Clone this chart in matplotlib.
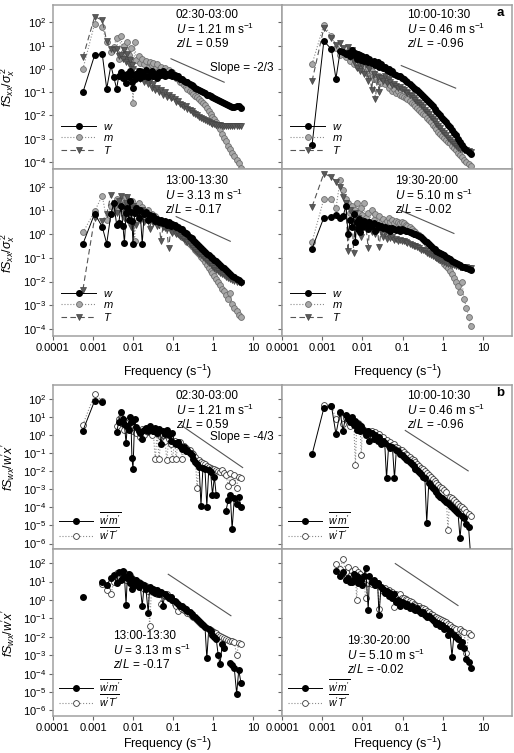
import numpy as np
import matplotlib
matplotlib.use('Agg')
import matplotlib.pyplot as plt
from matplotlib.ticker import FixedLocator, NullLocator

plt.rcParams['font.family'] = ['Liberation Sans', 'DejaVu Sans']
plt.rcParams['mathtext.fontset'] = 'custom'
plt.rcParams['mathtext.rm'] = 'Liberation Sans'
plt.rcParams['mathtext.it'] = 'Liberation Sans:italic'
plt.rcParams['mathtext.bf'] = 'Liberation Sans:bold'

nan = np.nan

# frequency bins (s^-1)
freq = [0.00056, 0.0011, 0.0017, 0.0022, 0.0028, 0.0033, 0.0039, 0.0044, 0.0050, 0.0056,
        0.0061, 0.0067, 0.0072, 0.0078, 0.0083, 0.0089, 0.0094, 0.0100,
        0.011, 0.012, 0.014, 0.015, 0.017, 0.019, 0.021, 0.024, 0.026, 0.029, 0.032,
        0.036, 0.040, 0.045, 0.050, 0.056, 0.063, 0.070, 0.078, 0.087, 0.097,
        0.11, 0.12, 0.13, 0.15, 0.17, 0.19, 0.21, 0.23, 0.26, 0.29, 0.32,
        0.36, 0.40, 0.45, 0.50, 0.56, 0.63, 0.70, 0.78, 0.87, 0.97,
        1.08, 1.2, 1.35, 1.5, 1.7, 1.9, 2.1, 2.4, 2.7, 3.0, 3.4, 3.9, 4.4, 5.0]

# (a) normalised spectra, log10 values
w_a1 = [-1.0, 0.6, 0.65, -0.85, 0.15, -0.35, -0.85, -0.3, -0.15, -0.4, -0.25, -0.6, -0.2, -0.35, -0.1, -0.2, -0.55, -0.8,
        -0.45, -0.2, -0.1, -0.4, -0.15, -0.3, -0.05, -0.35, -0.2, -0.1, -0.3, -0.2, -0.4, -0.15, -0.25, -0.1, -0.3, -0.2, -0.25, -0.15, -0.3,
        -0.25, -0.35, -0.3, -0.42, -0.45, -0.5, -0.55, -0.58, -0.65, -0.7, -0.75, -0.8, -0.85, -0.9, -0.95, -1.0, -1.05, -1.1, -1.14, -1.18, -1.22,
        -1.26, -1.3, -1.34, -1.38, -1.43, -1.47, -1.5, -1.55, -1.58, -1.62, -1.64, -1.6, -1.58, -1.66]
m_a1 = [0.0, 1.95, 1.8, 1.15, 0.75, 0.95, 1.35, 0.45, 1.4, 0.7, 1.0, 0.5, 1.15, 0.6, 0.45, 0.9, 0.3, -1.45,
        1.15, 0.4, 0.55, 0.25, 0.45, 0.2, 0.35, 0.05, 0.3, 0.15, 0.25, 0.0, 0.2, -0.05, 0.1, -0.1, 0.05, -0.15, -0.05, -0.2, -0.15,
        -0.3, -0.38, -0.45, -0.55, -0.62, -0.7, -0.78, -0.85, -0.93, -1.0, -1.08, -1.15, -1.22, -1.3, -1.38, -1.47, -1.57, -1.68, -1.8, -1.92, -2.05,
        -2.15, -2.3, -2.45, -2.6, -2.8, -2.95, -3.1, -3.3, -3.45, -3.6, -3.75, -3.9, -4.05, -4.25]
T_a1 = [0.5, 2.25, 2.1, 1.2, 0.85, 0.8, 0.85, 0.55, 0.6, 0.45, 0.8, 0.3, 0.65, 0.2, 0.4, -0.3, 0.15, 0.0,
        -0.2, -0.35, -0.1, -0.45, -0.3, -0.55, -0.4, -0.65, -0.5, -0.8, -0.65, -0.9, -0.8, -1.0, -0.9, -1.1, -1.0, -1.2, -1.1, -1.25, -1.2,
        -1.3, -1.4, -1.36, -1.5, -1.55, -1.62, -1.6, -1.72, -1.78, -1.82, -1.9, -1.95, -2.0, -2.05, -2.1, -2.15, -2.2, -2.25, -2.3, -2.33, -2.36,
        -2.38, -2.4, -2.42, -2.43, -2.44, -2.45, -2.44, -2.45, -2.46, -2.45, -2.44, -2.45, -2.46, -2.45]

w_a2 = [-3.27, 1.2, 0.85, -0.42, 0.77, 0.75, 0.65, 0.7, 0.55, 0.8, 0.6, 0.7, 0.45, 0.65, 0.5, 0.6, 0.4, 0.55,
        0.35, 0.5, 0.3, 0.45, 0.25, 0.35, 0.15, 0.3, 0.1, 0.2, 0.05, 0.1, -0.05, 0.0, -0.15, -0.1, -0.2, -0.25, -0.3, -0.3, -0.4,
        -0.45, -0.5, -0.58, -0.65, -0.72, -0.8, -0.85, -0.92, -1.0, -1.08, -1.15, -1.25, -1.32, -1.42, -1.5, -1.6, -1.7, -1.8, -1.9, -2.0, -2.1,
        -2.2, -2.3, -2.42, -2.5, -2.62, -2.75, -2.85, -3.0, -3.12, -3.25, -3.38, -3.5, -3.58, -3.66]
m_a2 = [0.21, 1.9, 1.41, 0.9, 0.6, 0.75, 0.5, 0.65, 0.35, 0.55, 0.2, 0.45, 0.3, 0.1, 0.4, 0.15, 0.25, 0.0,
        0.1, -0.15, 0.05, -0.3, -0.1, -0.45, -0.2, -0.5, -0.3, -0.6, -0.4, -0.65, -0.5, -0.8, -0.7, -0.95, -0.85, -1.05, -0.95, -1.1, -1.15,
        -1.2, -1.25, -1.3, -1.38, -1.45, -1.52, -1.6, -1.68, -1.75, -1.85, -1.92, -2.0, -2.1, -2.2, -2.3, -2.4, -2.5, -2.6, -2.7, -2.8, -2.9,
        -2.98, -3.05, -3.12, -3.2, -3.3, -3.4, -3.5, -3.6, -3.7, -3.8, -3.9, -4.0, -4.08, -4.15]
T_a2 = [-0.52, 1.76, 1.35, 1.05, 1.1, 0.9, 0.7, 0.95, 0.5, 0.8, 0.3, 0.6, 0.05, 0.55, 0.2, -0.1, 0.35, 0.15,
        -0.2, 0.2, -0.5, 0.0, -0.9, -0.2, -1.3, -0.35, -1.0, -0.4, -0.5, -0.3, -0.6, -0.45, -0.55, -0.7, -0.65, -0.75, -0.8, -0.78, -0.85,
        -0.9, -0.98, -1.05, -1.1, -1.18, -1.25, -1.32, -1.4, -1.48, -1.55, -1.65, -1.75, -1.85, -1.95, -2.05, -2.15, -2.25, -2.35, -2.45, -2.55, -2.65,
        -2.75, -2.85, -2.95, -3.05, -3.15, -3.22, -3.3, -3.38, -3.42, -3.45, -3.48, -3.5, -3.52, -3.55]

w_a3 = [-0.41, 0.87, 0.31, -0.4, 0.84, 1.3, 0.4, 0.45, 1.2, 0.35, -0.37, 0.9, 1.1, 0.6, 1.4, 0.95, 0.55, -0.4,
        0.9, 1.1, 0.7, 1.0, -0.4, 0.85, 0.95, 0.6, 0.8, 0.7, 0.75, 0.55, 0.65, 0.5, 0.6, 0.45, 0.55, 0.4, 0.5, 0.35, 0.42,
        0.38, 0.3, 0.32, 0.2, 0.22, 0.1, 0.05, 0.0, -0.1, -0.15, -0.25, -0.35, -0.42, -0.5, -0.6, -0.68, -0.75, -0.82, -0.9, -0.96, -1.02,
        -1.08, -1.15, -1.22, -1.3, -1.38, -1.45, -1.52, -1.6, -1.68, -1.75, -1.82, -1.88, -1.93, -2.0]
m_a3 = [0.07, 0.96, 1.63, 0.6, 1.2, 1.0, 1.5, 1.1, 1.45, 1.25, 0.9, 1.55, 1.3, 1.2, 0.8, 1.35, 1.4, 1.0,
        -0.3, 1.2, 1.3, 1.0, 1.15, 0.9, 0.8, 1.0, 0.7, 0.85, 0.65, 0.75, 0.55, 0.6, 0.45, 0.5, 0.35, 0.4, 0.3, 0.32, 0.25,
        0.2, 0.12, 0.05, -0.02, -0.1, -0.18, -0.25, -0.32, -0.4, -0.48, -0.56, -0.65, -0.75, -0.85, -0.95, -1.05, -1.18, -1.3, -1.42, -1.55, -1.65,
        -1.78, -1.9, -2.02, -2.15, -2.3, -2.42, -2.55, -2.75, -2.5, -2.95, -3.1, -3.25, -3.4, -3.5]
T_a3 = [-2.34, 0.7, 0.55, 0.85, 1.67, 1.2, 0.9, 1.4, 1.6, 1.1, 0.7, 1.3, 1.55, 0.8, 1.25, 0.3, 1.0, 1.2,
        1.1, 0.4, 0.95, 0.6, 1.0, 0.5, 0.75, 0.55, 0.2, 0.6, 0.45, 0.5, 0.35, 0.4, -0.3, 0.3, 0.25, 0.2, -0.6, 0.15, 0.05,
        0.1, 0.0, 0.02, -0.08, -0.12, -0.2, -0.28, -0.34, -0.42, -0.5, -0.58, -0.66, -0.74, -0.82, -0.9, -0.98, -1.06, -1.14, -1.2, -1.28, -1.35,
        -1.42, -1.5, -1.56, -1.62, -1.68, -1.74, -1.8, -1.85, -1.9, -1.94, -1.98, -2.0, -2.02, -2.05]

w_a4 = [-0.61, 0.7, 0.73, 0.81, 0.7, 0.75, 1.2, 0.0, 0.6, 0.3, 0.85, -0.35, 0.5, 0.2, 0.65, 0.1, 0.45, 0.3,
        0.55, 0.4, 0.2, 0.5, 0.35, 0.45, 0.15, 0.4, 0.3, 0.35, 0.25, 0.3, 0.2, 0.28, 0.15, 0.25, 0.2, 0.18, 0.22, 0.15, 0.2,
        0.18, 0.15, 0.12, 0.1, 0.05, 0.02, 0.0, -0.05, -0.08, -0.12, -0.2, -0.28, -0.35, -0.42, -0.5, -0.57, -0.63, -0.7, -0.75, -0.8, -0.85,
        -0.9, -0.95, -1.0, -1.05, -1.12, -1.18, -1.22, -1.28, -1.32, -1.38, -1.4, -1.45, -1.48, -1.52]
m_a4 = [-0.33, 1.49, 1.49, 1.1, 2.27, 1.85, 1.5, 1.3, 0.9, 1.2, 0.5, 1.0, 1.3, 0.7, 0.95, 0.4, 1.1, 0.8,
        1.3, 0.7, 0.9, 0.5, 1.0, 0.6, 0.85, 0.4, 0.75, 0.5, 0.65, 0.45, 0.55, 0.7, 0.5, 0.6, 0.45, 0.55, 0.5, 0.45, 0.5,
        0.45, 0.4, 0.35, 0.3, 0.22, 0.15, 0.1, 0.02, -0.05, -0.12, -0.2, -0.3, -0.4, -0.5, -0.6, -0.7, -0.8, -0.9, -1.0, -1.08, -1.15,
        -1.25, -1.35, -1.45, -1.55, -1.7, -1.85, -2.0, -2.2, -2.45, -2.0, -2.75, -3.1, -3.5, -3.87]
T_a4 = [1.16, 2.56, 2.41, 2.2, 2.0, 1.56, 1.3, -0.73, 1.0, 0.5, -0.8, 0.9, 0.3, 0.7, 0.2, 0.6, -0.1, 0.45,
        0.3, 0.5, -0.6, 0.35, 0.1, 0.3, 0.0, 0.2, -0.55, 0.1, -0.1, 0.05, -0.2, 0.0, -0.15, -0.1, -0.25, -0.2, -0.3, -0.25, -0.3,
        -0.3, -0.35, -0.38, -0.42, -0.45, -0.5, -0.52, -0.56, -0.6, -0.65, -0.68, -0.72, -0.78, -0.82, -0.88, -0.92, -0.98, -1.02, -1.06, -1.1, -1.12,
        -1.16, -1.2, -1.24, -1.27, -1.3, -1.32, -1.34, -1.36, -1.37, -1.38, -1.39, -1.4, -1.41, -1.42]

# (b) normalised cospectra, log10 values (nan = negative, not shown)
wm_b1 = [0.25, 1.9, 1.84, nan, nan, nan, 0.19, 0.7, 1.25, 0.9, 0.6, -0.45, 0.5, 0.3, 0.98, 0.7, -1.27, -1.9,
         0.9, 0.45, 0.2, 0.1, -0.2, 0.3, 0.4, 0.2, 0.5, 0.3, 0.25, 0.4, 0.1, 0.35, -0.5, 0.2, 0.05, 0.3, 0.0, -0.3, 0.1,
         -0.45, -0.5, -0.4, -0.6, -0.75, -0.65, -0.9, -0.8, -1.0, -1.1, -1.3, -1.5, -1.6, -1.75, -3.9, -1.8, -1.9, -3.95, -1.95, -2.05, -3.3,
         -2.3, -3.3, nan, nan, nan, nan, -4.2, -3.6, -3.3, -5.2, -3.5, -3.8, -3.4, -3.95]
wT_b1 = [0.58, 2.26, 1.9, nan, nan, nan, 0.5, 0.9, 1.0, 0.6, 0.3, 0.8, 0.45, 0.7, 0.35, 0.6, 0.5, 0.2,
         0.4, 0.1, 0.3, -0.1, 0.35, 0.0, 0.2, 0.15, 0.3, 0.0, 0.2, -1.35, 0.1, -1.3, -0.1, 0.0, -0.3, -1.4, -0.2, -0.5, -1.35,
         -0.3, -1.35, -0.5, -0.4, -1.3, -0.6, -0.7, -0.9, -0.85, -1.0, -1.05, -1.2, -2.95, -1.4, -1.5, -1.55, -1.6, -1.7, -1.75, -1.8, -1.85,
         -1.9, -1.95, -2.0, -2.05, -1.95, -2.1, -2.2, -2.8, -2.1, -2.6, -2.2, -2.9, -2.3, -2.4]

wm_b2 = [-1.07, 1.49, 1.62, 0.06, 1.25, 0.25, 1.1, 0.9, 0.7, 1.0, 0.55, 0.8, 0.3, 0.6, 0.45, 0.2, 0.5, 0.35,
         0.25, 0.0, 0.2, -0.3, 0.1, -0.2, 0.0, -0.35, -0.1, -0.5, -0.3, -0.45, -2.4, -0.6, -0.7, -0.65, -2.4, -0.85, -0.9, -1.05, -1.1,
         -1.2, -1.3, -1.4, -1.5, -1.6, -1.7, -1.85, -1.95, -2.05, -2.15, -2.3, -2.4, -4.85, -2.65, -2.8, -2.9, -3.05, -3.15, -3.3, -3.4, -3.5,
         -3.6, -3.7, -3.78, -3.85, -4.0, -4.1, -4.2, -4.3, -5.7, -4.45, -4.6, -4.9, -5.1, -6.8]
wT_b2 = [nan, 1.67, 1.6, 0.89, 1.2, 0.6, 0.95, 1.0, 0.5, 0.85, 0.7, -1.63, 0.45, 0.65, 0.6, 0.3, -1.1, 0.4,
         0.3, 0.15, 0.25, 0.1, 0.2, 0.0, 0.15, -0.1, 0.05, -0.2, -0.1, -0.3, -0.25, -0.45, -0.4, -0.55, -0.5, -0.65, -0.7, -0.8, -0.85,
         -0.95, -1.05, -1.1, -1.2, -1.3, -1.4, -1.5, -1.6, -1.7, -1.8, -1.9, -2.0, -2.1, -2.2, -2.3, -2.45, -2.55, -2.65, -2.75, -2.85, -2.95,
         -3.05, -3.15, -5.23, -3.4, -3.5, -3.6, -3.7, -3.8, -3.9, -4.0, -4.1, -4.25, -4.35, -4.47]

wm_b3 = [0.16, nan, 1.0, 0.8, 1.2, 1.35, 0.9, 1.5, 1.1, 1.6, 1.3, -0.25, 1.21, 1.4, 0.9, 1.2, 0.6, 1.0,
         0.8, 1.1, 0.7, 0.9, -0.34, 0.8, 0.6, -0.7, 0.7, 0.5, 0.6, 0.4, 0.55, 0.3, 0.45, -0.3, 0.35, 0.2, 0.1, 0.15, 0.0,
         -0.06, -0.1, -0.2, -0.3, -0.35, -0.45, -0.5, -0.6, -0.65, -0.75, -0.89, -0.95, -1.05, -1.15, -1.25, -1.35, -1.45, -3.17, -1.6, -1.7, -1.89,
         -2.0, -2.1, -3.0, -3.48, -2.4, -2.6, nan, nan, -3.44, -3.55, -3.7, -5.09, -3.8, -4.5]
wT_b3 = [nan, nan, 0.85, 0.54, 0.3, 1.0, 1.49, 1.2, 1.45, 1.3, 1.5, 1.1, 1.4, 1.25, 1.35, 1.0, 1.2, 0.8,
         1.1, 0.9, 1.0, 0.7, 0.85, 0.6, 0.75, 0.5, -1.4, 0.6, 0.45, 0.55, 0.3, 0.45, -0.2, 0.35, 0.2, 0.3, 0.1, 0.15, 0.0,
         -0.2, -0.3, -0.6, -0.4, -0.5, -0.55, -0.6, -0.7, -0.75, -0.85, -0.95, -1.0, -1.1, -1.2, -1.3, -1.35, -1.45, -1.5, -1.6, -1.65, -1.7,
         -1.75, -1.8, -1.9, -1.95, -2.0, -2.05, -2.1, -2.15, -2.2, -2.25, -2.3, -3.0, -2.35, -2.4]

wm_b4 = [nan, nan, nan, 1.58, 1.3, 1.5, 1.1, 1.2, 1.0, 1.0, 1.4, 1.2, 1.3, 0.9, 1.2, 1.0, 1.1, 0.8,
         1.3, 1.76, -0.52, 1.3, 1.0, 1.1, 0.8, 0.9, -0.83, 0.7, 0.6, 0.4, 0.5, 0.2, 0.4, 0.1, 0.3, -0.1, 0.0, -0.3, -0.1,
         -0.16, -0.3, -0.2, -0.45, -0.35, -0.5, -0.55, -0.45, -0.6, -0.7, -0.65, -0.8, -0.9, -0.85, -1.0, -1.1, -1.2, -1.3, -1.25, -1.4, -1.34,
         -1.6, -1.5, -1.9, -1.7, -3.08, -1.89, -2.0, -2.1, -2.5, -2.3, -2.6, -3.2, -3.35, -3.72]
wT_b4 = [nan, nan, nan, 1.98, 1.7, 2.22, 1.5, 1.8, 1.3, 1.6, 1.4, 1.7, 0.0, 1.5, 1.3, 1.4, 1.1, 1.25,
         1.2, 0.1, 0.9, 1.1, 0.85, 1.0, 0.8, 0.9, -0.5, 0.7, 0.5, 0.65, 0.4, 0.55, 0.3, 0.45, -0.4, 0.35, 0.15, 0.3, 0.1,
         0.12, 0.05, 0.0, -0.05, -0.1, -0.2, -0.25, -0.3, -0.35, -0.45, -0.43, -0.5, -0.6, -0.65, -0.75, -0.8, -0.9, -0.95, -1.0, -1.05, -1.07,
         -1.15, -1.2, -1.3, -1.35, -1.45, -1.5, -1.55, -2.0, -1.6, -1.7, -1.75, -2.9, -1.8, -1.89]

periods = ['02:30-03:00', '10:00-10:30', '13:00-13:30', '19:30-20:00']
wind = ['1.21', '0.46', '3.13', '5.10']
stab = ['0.59', '-0.96', '-0.17', '-0.02']

# -2/3 and -4/3 reference lines (frequency, value)
slope_a_f = [(0.089, 1.9), (0.093, 2.1), (0.12, 2.7), (0.087, 1.9)]
slope_a_y = [(2.75, 0.27), (1.4, 0.15), (5.5, 0.5), (10.2, 1.07)]
slope_b_f = [(0.166, 5.5), (0.117, 4.3), (0.076, 2.8), (0.066, 2.4)]
slope_b_y = [(3.3, 0.016), (1.8, 0.0105), (25.0, 0.14), (95.0, 0.5)]

xticks = [1e-4, 1e-3, 1e-2, 1e-1, 1, 10]
xtick_labels = ['0.0001', '0.001', '0.01', '0.1', '1', '10']
yticks_a = [1e-4, 1e-3, 1e-2, 1e-1, 1, 10, 100]
yticks_b = [1e-6, 1e-5, 1e-4, 1e-3, 1e-2, 1e-1, 1, 10, 100]

W, H = 514, 753
fig = plt.figure(figsize=(W / 100, H / 100), dpi=100)

def px_axes(x0, x1, y0, y1):
    return fig.add_axes([x0 / W, 1 - y1 / H, (x1 - x0) / W, (y1 - y0) / H])

cols = [(53, 282), (282, 512)]
rows_a = [(5, 169), (169, 336)]
rows_b = [(385, 549), (549, 716)]
frame = '#a0a0a0'

def style(ax, yticks, ylim, left, bottom, xpad):
    ax.set_xscale('log')
    ax.set_yscale('log')
    ax.set_xlim(1e-4, 53)
    ax.set_ylim(*ylim)
    ax.xaxis.set_major_locator(FixedLocator(xticks))
    ax.xaxis.set_minor_locator(NullLocator())
    ax.yaxis.set_major_locator(FixedLocator(yticks))
    ax.yaxis.set_minor_locator(NullLocator())
    ax.set_xticklabels(xtick_labels)
    ax.tick_params(direction='out', length=3, width=0.8, color='#666666',
                   labelsize=8, pad=2, labelbottom=bottom, labelleft=left)
    for s in ax.spines.values():
        s.set_color(frame)
        s.set_linewidth(1.1)
    if bottom:
        ax.set_xlabel('Frequency (s$^{-1}$)', fontsize=9, labelpad=xpad)

def annotate(ax, k, x, y):
    ax.text(x, y, periods[k] + '\n$U$ = ' + wind[k] + ' m s$^{-1}$\n$z/L$ = ' + stab[k],
            transform=ax.transAxes, ha='left', va='top', fontsize=8.5, linespacing=1.05)

f = np.array(freq)
spec_a = [(w_a1, m_a1, T_a1), (w_a2, m_a2, T_a2), (w_a3, m_a3, T_a3), (w_a4, m_a4, T_a4)]
cosp_b = [(wm_b1, wT_b1), (wm_b2, wT_b2), (wm_b3, wT_b3), (wm_b4, wT_b4)]
pos_a = [(0.537, 0.975), (0.543, 0.975), (0.49, 0.965), (0.49, 0.965)]
pos_b = [(0.537, 0.97), (0.543, 0.97), (0.262, 0.515), (0.283, 0.485)]

for k in range(4):
    r, c = divmod(k, 2)
    ax = px_axes(cols[c][0], cols[c][1], rows_a[r][0], rows_a[r][1])
    w, m, T = spec_a[k]
    ax.plot(f, 10 ** np.array(w), '-o', color='black', lw=0.7, ms=4.0, mec='black', label='$w$', zorder=3)
    ax.plot(f, 10 ** np.array(m), ':o', color='#8c8c8c', lw=0.8, ms=4.2, mfc='#a8a8a8', mec='#6e6e6e',
            mew=0.6, label='$m$', zorder=2)
    ax.plot(f, 10 ** np.array(T), '--v', color='#555555', lw=0.8, ms=4.2, mfc='#5a5a5a', mec='#444444',
            mew=0.5, dashes=(5, 3), label='$T$', zorder=2)
    ax.plot(slope_a_f[k], slope_a_y[k], color='#555555', lw=0.8)
    style(ax, yticks_a, (10 ** -4.3, 10 ** 2.75), c == 0, r == 1, 7)
    if c == 0:
        ax.set_ylabel('$fS_{xx}/\\sigma_x^{\\,2}$', fontsize=9, labelpad=4)
    annotate(ax, k, *pos_a[k])
    ax.legend(loc='lower left', bbox_to_anchor=(0.0, 0.03), frameon=False, fontsize=8,
              handlelength=3.2, labelspacing=0.12, handletextpad=0.6, borderaxespad=0.3)
    if k == 0:
        ax.text(0.84, 1.15, 'Slope = -2/3', fontsize=8.5, va='center')
    if k == 1:
        ax.text(0.95, 0.95, 'a', transform=ax.transAxes, fontsize=9.5, fontweight='bold', ha='center', va='center')

for k in range(4):
    r, c = divmod(k, 2)
    ax = px_axes(cols[c][0], cols[c][1], rows_b[r][0], rows_b[r][1])
    wm, wT = cosp_b[k]
    ax.plot(f, 10 ** np.array(wm), '-o', color='black', lw=0.7, ms=4.0, mec='black',
            label="$\\overline{w'm'}$", zorder=3)
    ax.plot(f, 10 ** np.array(wT), ':o', color='#8c8c8c', lw=0.8, ms=4.2, mfc='white', mec='#3a3a3a',
            mew=0.6, label="$\\overline{w'T'}$", zorder=2)
    ax.plot(slope_b_f[k], slope_b_y[k], color='#555555', lw=0.8)
    style(ax, yticks_b, (10 ** -6.3, 10 ** 2.77), c == 0, r == 1, 1)
    if c == 0:
        ax.set_ylabel("$fS_{wx}/w'x'$", fontsize=9, labelpad=4)
    annotate(ax, k, *pos_b[k])
    ax.legend(loc='lower left', bbox_to_anchor=(0.0, 0.005), frameon=False, fontsize=7.5,
              handlelength=3.2, labelspacing=-0.15, handletextpad=0.6, borderaxespad=0.2)
    if k == 0:
        ax.text(0.84, 0.83, 'Slope = -4/3', fontsize=8.5, va='center')
    if k == 1:
        ax.text(0.95, 0.95, 'b', transform=ax.transAxes, fontsize=9.5, fontweight='bold', ha='center', va='center')

fig.savefig('out.png', dpi=100)
